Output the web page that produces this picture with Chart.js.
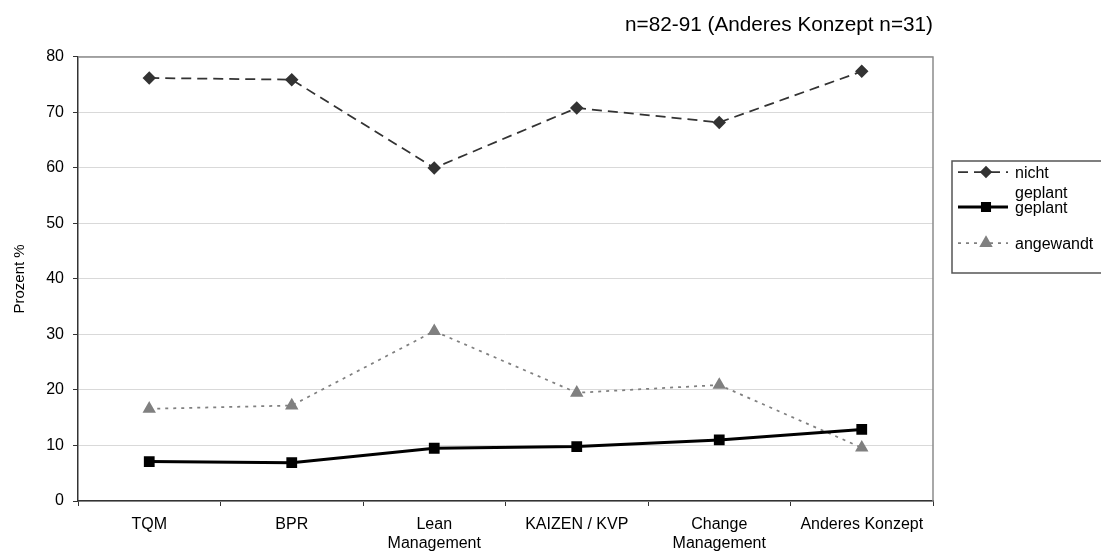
<!DOCTYPE html>
<html>
<head>
<meta charset="utf-8">
<script src="https://cdn.jsdelivr.net/npm/chart.js@4.4.1/dist/chart.umd.min.js"></script>
<style>
  body { margin: 0; background: #ffffff; }
  #wrap { width: 1101px; height: 554px; position: relative; }
</style>
</head>
<body>
<div id="wrap"><canvas id="myChart"></canvas></div>
<script>
const konzepte = [['TQM'], ['BPR'], ['Lean', 'Management'], ['KAIZEN / KVP'], ['Change', 'Management'], ['Anderes Konzept']];
const nichtGeplant = [76.2, 75.9, 60.0, 70.8, 68.2, 77.4];
const geplant = [7.1, 6.9, 9.5, 9.8, 11.0, 12.9];
const angewandt = [16.6, 17.2, 30.6, 19.5, 20.9, 9.6];
const yTicks = [0, 10, 20, 30, 40, 50, 60, 70, 80];

const schrift = 'Arial, "Liberation Sans", sans-serif';

// Rahmen oben und rechts um die Zeichenfläche
const rahmen = {
    id: 'rahmen',
    afterDatasetsDraw(chart) {
        const { ctx, chartArea: a } = chart;
        ctx.save();
        ctx.strokeStyle = '#8c8c8c';
        ctx.lineWidth = 1.5;
        ctx.beginPath();
        ctx.moveTo(a.left, a.top);
        ctx.lineTo(a.right, a.top);
        ctx.lineTo(a.right, a.bottom);
        ctx.stroke();
        ctx.restore();
    }
};

// Legende im Kasten rechts neben der Grafik
const legendeKasten = {
    id: 'legendeKasten',
    afterDraw(chart) {
        const ctx = chart.ctx;
        const x0 = 952, y0 = 161, y1 = 273;
        ctx.save();
        ctx.fillStyle = '#ffffff';
        ctx.fillRect(x0, y0, 160, y1 - y0);
        ctx.strokeStyle = '#555555';
        ctx.lineWidth = 1.5;
        ctx.strokeRect(x0, y0, 160, y1 - y0);

        ctx.font = '16px ' + schrift;
        ctx.textBaseline = 'middle';
        const zeilen = [172, 207, 243];
        const groesse = [5, 5, 6];
        chart.data.datasets.forEach((ds, i) => {
            const y = zeilen[i];
            ctx.strokeStyle = ds.borderColor;
            ctx.lineWidth = ds.borderWidth;
            ctx.setLineDash(ds.borderDash || []);
            ctx.beginPath();
            ctx.moveTo(x0 + 6, y);
            ctx.lineTo(x0 + 56, y);
            ctx.stroke();
            ctx.setLineDash([]);
            ctx.fillStyle = ds.pointBackgroundColor;
            ctx.strokeStyle = ds.pointBorderColor;
            Chart.helpers.drawPoint(ctx, {
                pointStyle: ds.pointStyle,
                radius: groesse[i],
                borderWidth: 1
            }, x0 + 34, y);

            // Beschriftung umbrechen, wenn sie zu breit ist
            ctx.fillStyle = '#000000';
            const worte = ds.label.split(' ');
            const teile = [];
            let akt = '';
            worte.forEach(w => {
                const test = akt ? akt + ' ' + w : w;
                if (akt && ctx.measureText(test).width > 82) {
                    teile.push(akt);
                    akt = w;
                } else {
                    akt = test;
                }
            });
            teile.push(akt);
            teile.forEach((t, k) => ctx.fillText(t, x0 + 63, y + 2 + k * 20));
        });
        ctx.restore();
    }
};

const ctx = document.getElementById('myChart').getContext('2d');
new Chart(ctx, {
    type: 'line',
    data: {
        labels: konzepte,
        datasets: [
            {
                label: 'nicht geplant',
                data: nichtGeplant,
                borderColor: '#333333',
                borderWidth: 1.75,
                borderDash: [10, 6],
                pointStyle: 'rectRot',
                pointRadius: 5.5,
                pointBackgroundColor: '#333333',
                pointBorderColor: '#333333',
                tension: 0
            },
            {
                label: 'geplant',
                data: geplant,
                borderColor: '#000000',
                borderWidth: 3,
                pointStyle: 'rect',
                pointRadius: 5.5,
                pointBackgroundColor: '#000000',
                pointBorderColor: '#000000',
                tension: 0
            },
            {
                label: 'angewandt',
                data: angewandt,
                borderColor: '#808080',
                borderWidth: 1.75,
                borderDash: [3, 5],
                pointStyle: 'triangle',
                pointRadius: 6,
                pointBackgroundColor: '#808080',
                pointBorderColor: '#808080',
                tension: 0
            }
        ]
    },
    options: {
        responsive: true,
        maintainAspectRatio: false,
        animation: false,
        layout: {
            padding: { left: 0, right: 168, top: 0, bottom: 0 }
        },
        plugins: {
            legend: { display: false },
            tooltip: { enabled: false },
            title: {
                display: true,
                text: 'n=82-91 (Anderes Konzept n=31)',
                align: 'end',
                color: '#000000',
                font: { size: 20.75, family: schrift, weight: 'normal', lineHeight: 1.2 },
                padding: { top: 13, bottom: 19 }
            }
        },
        scales: {
            x: {
                offset: true,
                afterFit: s => { s.height = 53; },
                grid: {
                    offset: true,
                    drawOnChartArea: false,
                    drawTicks: true,
                    tickLength: 5,
                    tickColor: '#333333'
                },
                border: { color: '#333333', width: 1.5 },
                ticks: {
                    color: '#000000',
                    maxRotation: 0,
                    autoSkip: false,
                    padding: 9,
                    font: { size: 16, family: schrift, lineHeight: 1.2 }
                }
            },
            y: {
                min: 0,
                max: 80,
                afterFit: s => { s.width = 78; },
                afterBuildTicks: s => { s.ticks = yTicks.map(v => ({ value: v })); },
                grid: {
                    color: '#d9d9d9',
                    lineWidth: 1,
                    drawTicks: true,
                    tickLength: 5,
                    tickColor: '#333333'
                },
                border: { color: '#333333', width: 1.5 },
                ticks: {
                    color: '#000000',
                    padding: 9,
                    font: { size: 16, family: schrift }
                },
                title: {
                    display: true,
                    text: 'Prozent %',
                    color: '#000000',
                    padding: { top: 11, bottom: 0 },
                    font: { size: 15, family: schrift }
                }
            }
        }
    },
    plugins: [rahmen, legendeKasten]
});
</script>
</body>
</html>
